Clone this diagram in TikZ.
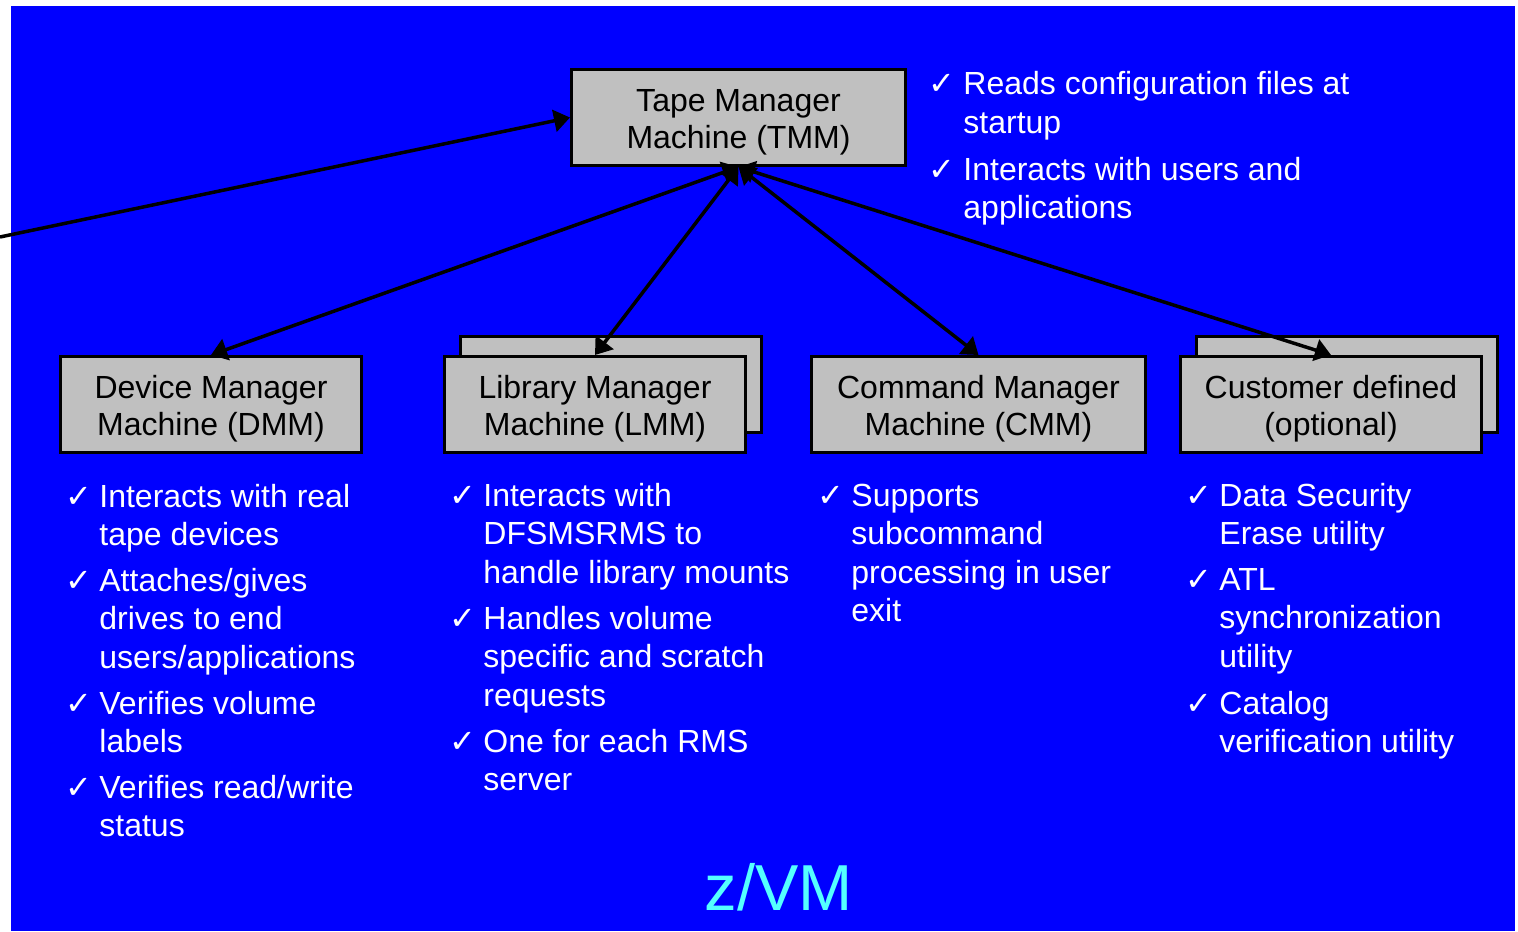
\documentclass[tikz,border=0pt]{standalone}
\usepackage{fontspec}
\setmainfont{Liberation Sans}
\newfontfamily\chkfont{DejaVu Sans}
\usetikzlibrary{arrows.meta}
\definecolor{bgblue}{RGB}{0,0,255}
\definecolor{boxgray}{RGB}{192,192,192}
\definecolor{zvmcyan}{RGB}{85,255,255}
\newcommand{\bitem}[5]{%
  \node[chkmark] (#1c) at (#2,#4) {✓};
  \node[btxt] (#1) at (#3,#4) {\begin{tabular}[t]{@{}l@{}}#5\end{tabular}};}
\begin{document}
\begin{tikzpicture}[x=0.5pt,y=-0.5pt,
  mbox/.style={draw=black, line width=1.5pt, fill=boxgray, minimum height=48pt, inner sep=0pt},
  narrowbox/.style={mbox, minimum width=150.5pt},
  widebox/.style={mbox, minimum width=167pt},
  boxtxt/.style={align=center, inner sep=0pt, text=black, font=\fontsize{16}{18.5}\selectfont},
  chkmark/.style={anchor=base west, inner sep=0pt, text=white, font=\chkfont\fontsize{16}{16}\selectfont},
  btxt/.style={anchor=base west, inner sep=0pt, text=white, font=\fontsize{16}{19.25}\selectfont},
  conn/.style={line width=1.75pt, draw=black},
  >={Triangle[length=8pt,width=11pt]}
  ]
\useasboundingbox (0,0) rectangle (1518,931);
\fill[bgblue] (11,6) rectangle (1515,931);

% boxes
\node[widebox] (tmm) at (738.5,117.5) {};
\node[narrowbox] (dmm) at (211,404.5) {};
\node[narrowbox] (lmmback) at (611,384.5) {};
\node[narrowbox] (lmm) at (595,404.5) {};
\node[widebox] (cmm) at (978.5,404.5) {};
\node[narrowbox] (custback) at (1347,384.5) {};
\node[narrowbox] (cust) at (1331,404.5) {};

\node[boxtxt] (tmmtxt) at ([yshift=-2.2pt]tmm.center) {Tape Manager\\Machine (TMM)};
\node[boxtxt] (dmmtxt) at ([yshift=-2.2pt]dmm.center) {Device Manager\\Machine (DMM)};
\node[boxtxt] (lmmtxt) at ([yshift=-2.2pt]lmm.center) {Library Manager\\Machine (LMM)};
\node[boxtxt] (cmmtxt) at ([yshift=-2.2pt]cmm.center) {Command Manager\\Machine (CMM)};
\node[boxtxt] (custtxt) at ([yshift=-2.2pt]cust.center) {Customer defined\\(optional)};

% connectors
\coordinate (leftend) at (0,237);
\draw[conn, ->] (leftend) -- (tmm.west);
\draw[conn, <->] (tmm.south) -- (dmm.north);
\draw[conn, <->] (tmm.south) -- (lmm.north);
\draw[conn, <->] (tmm.south) -- (cmm.north);
\draw[conn, <->] (tmm.south) -- (cust.north);

% TMM notes
\bitem{t1}{928}{963}{95}{Reads configuration files at\\startup}
\bitem{t2}{928}{963}{180}{Interacts with users and\\applications}

% DMM
\bitem{d1}{65}{99}{507}{Interacts with real\\tape devices}
\bitem{d2}{65}{99}{591}{Attaches/gives\\drives to end\\users/applications}
\bitem{d3}{65}{99}{714}{Verifies volume\\labels}
\bitem{d4}{65}{99}{798}{Verifies read/write\\status}

% LMM
\bitem{l1}{449}{483}{506}{Interacts with\\DFSMSRMS to\\handle library mounts}
\bitem{l2}{449}{483}{629}{Handles volume\\specific and scratch\\requests}
\bitem{l3}{449}{483}{752}{One for each RMS\\server}

% CMM
\bitem{c1}{817}{851}{506}{Supports\\subcommand\\processing in user\\exit}

% Customer
\bitem{u1}{1185}{1219}{506}{Data Security\\Erase utility}
\bitem{u2}{1185}{1219}{590}{ATL\\synchronization\\utility}
\bitem{u3}{1185}{1219}{714}{Catalog\\verification utility}

\node[anchor=base, inner sep=0pt, text=zvmcyan, font=\fontsize{32.5}{32.5}\selectfont] (zvm) at (779,910) {z/VM};
\end{tikzpicture}
\end{document}
